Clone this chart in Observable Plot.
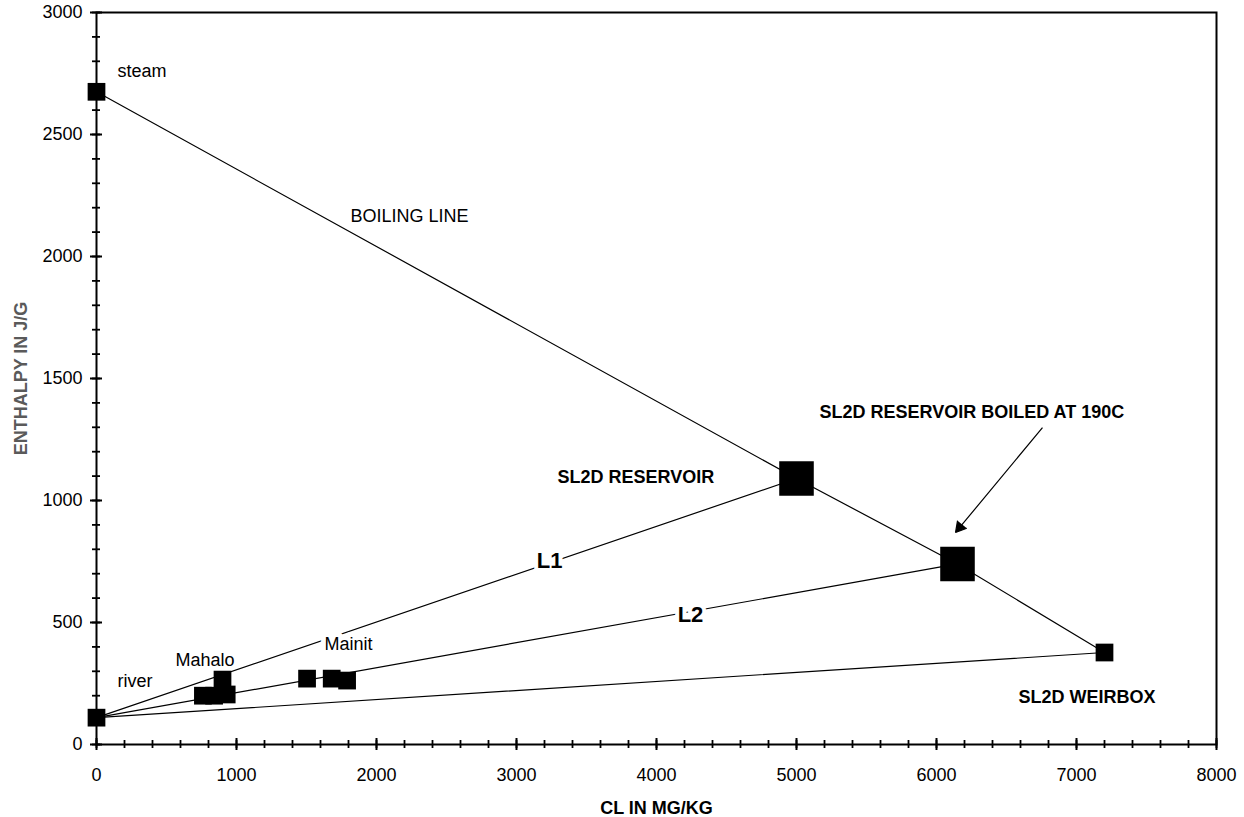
<!DOCTYPE html>
<html><head><meta charset="utf-8">
<script src="https://cdn.jsdelivr.net/npm/d3@7"></script>
<script src="https://cdn.jsdelivr.net/npm/@observablehq/plot@0.6"></script>
<style>body{margin:0;background:#fff}</style>
</head><body><div id="chart"></div>
<script>
// Tick values
const xTicks = [0, 1000, 2000, 3000, 4000, 5000, 6000, 7000, 8000];
const yTicks = [0, 500, 1000, 1500, 2000, 2500, 3000];
const xMinorTicks = d3.range(0, 8001, 200);
const yMinorTicks = d3.range(0, 3001, 100);

// Lines (CL mg/kg, enthalpy J/g)
const boilingLine = [
  {cl: 0, h: 2675}, {cl: 5000, h: 1090}, {cl: 6150, h: 740}, {cl: 7200, h: 377}
];
const lineL1 = [{cl: 0, h: 110}, {cl: 5000, h: 1090}];
const lineL2 = [{cl: 0, h: 110}, {cl: 6150, h: 740}];
const lineL3 = [{cl: 0, h: 110}, {cl: 7200, h: 377}];

// Sample points
const samples = [
  {name: "steam", cl: 0, h: 2675},
  {name: "river", cl: 0, h: 110},
  {name: "Mahalo", cl: 760, h: 200},
  {name: "Mahalo", cl: 840, h: 200},
  {name: "Mahalo", cl: 930, h: 205},
  {name: "Mahalo", cl: 900, h: 266},
  {name: "Mainit", cl: 1504, h: 270},
  {name: "Mainit", cl: 1680, h: 270},
  {name: "Mainit", cl: 1790, h: 262},
  {name: "SL2D WEIRBOX", cl: 7200, h: 377}
];
const reservoirPoints = [
  {name: "SL2D RESERVOIR", cl: 5000, h: 1090},
  {name: "SL2D RESERVOIR BOILED AT 190C", cl: 6150, h: 740}
];

// Labels
const plainLabels = [
  {label: "steam", cl: 150, h: 2758},
  {label: "BOILING LINE", cl: 1814, h: 2164},
  {label: "river", cl: 150, h: 258},
  {label: "Mahalo", cl: 564, h: 344}
];
const haloLabels = [{label: "Mainit", cl: 1629, h: 410}];
const boldLabels = [
  {label: "SL2D RESERVOIR", cl: 3293, h: 1094},
  {label: "SL2D RESERVOIR BOILED AT 190C", cl: 5164, h: 1361},
  {label: "SL2D WEIRBOX", cl: 6586, h: 193}
];
const lineLabels = [
  {label: "L1", cl: 3236, h: 754},
  {label: "L2", cl: 4243, h: 529}
];
const arrows = [{cl1: 6757, h1: 1299, cl2: 6136, h2: 869}];

const plain = (d) => String(d);

const chart = Plot.plot({
  width: 1244,
  height: 817,
  marginLeft: 96,
  marginRight: 28,
  marginTop: 12,
  marginBottom: 73,
  style: {fontFamily: "'Liberation Sans', Arial, sans-serif", background: "#fff", color: "#000"},
  x: {domain: [0, 8000], label: null},
  y: {domain: [0, 3000], label: null},
  marks: [
    Plot.line(boilingLine, {x: "cl", y: "h", stroke: "black", strokeWidth: 1.2}),
    Plot.line(lineL1, {x: "cl", y: "h", stroke: "black", strokeWidth: 1.2}),
    Plot.line(lineL2, {x: "cl", y: "h", stroke: "black", strokeWidth: 1.2}),
    Plot.line(lineL3, {x: "cl", y: "h", stroke: "black", strokeWidth: 1.2}),
    Plot.dot(samples, {x: "cl", y: "h", symbol: "square", r: 10, fill: "black", stroke: "none"}),
    Plot.dot(reservoirPoints, {x: "cl", y: "h", symbol: "square", r: 19.5, fill: "black", stroke: "none"}),
    Plot.arrow(arrows, {x1: "cl1", y1: "h1", x2: "cl2", y2: "h2", stroke: "black", fill: "black", strokeWidth: 1.2, headLength: 15, headAngle: 60, strokeLinecap: "butt"}),
    Plot.text(plainLabels, {x: "cl", y: "h", text: "label", textAnchor: "start", fontSize: 18, fill: "black"}),
    Plot.text(haloLabels, {x: "cl", y: "h", text: "label", textAnchor: "start", fontSize: 18, fill: "black", stroke: "white", strokeWidth: 10, paintOrder: "stroke"}),
    Plot.text(boldLabels, {x: "cl", y: "h", text: "label", textAnchor: "start", fontSize: 18, fontWeight: "bold", fill: "black"}),
    Plot.text(lineLabels, {x: "cl", y: "h", text: "label", textAnchor: "middle", fontSize: 22, fontWeight: "bold", fill: "black", stroke: "white", strokeWidth: 8, paintOrder: "stroke"}),
    Plot.frame({stroke: "black", strokeWidth: 2}),
    // ticks crossing the axes
    Plot.axisX({ticks: xTicks, tickSize: 12, dy: -6, tickFormat: () => "", label: null, strokeWidth: 2}),
    Plot.axisX({ticks: xMinorTicks, tickSize: 8, dy: -4, tickFormat: () => "", label: null, strokeWidth: 1.8}),
    Plot.axisX({ticks: xTicks, tickSize: 0, tickPadding: 24, tickFormat: plain, fontSize: 18, label: null}),
    Plot.axisY({ticks: yTicks, tickSize: 12, dx: 6, tickFormat: () => "", label: null, strokeWidth: 2}),
    Plot.axisY({ticks: yMinorTicks, tickSize: 8, dx: 4, tickFormat: () => "", label: null, strokeWidth: 1.8}),
    Plot.axisY({ticks: yTicks, tickSize: 0, tickPadding: 14, tickFormat: plain, fontSize: 18, label: null}),
    Plot.text(["CL IN MG/KG"], {frameAnchor: "bottom", dy: 64, lineAnchor: "middle", fontSize: 18, fontWeight: "bold", fill: "black"}),
    Plot.text(["ENTHALPY IN J/G"], {frameAnchor: "left", dx: -75, rotate: -90, textAnchor: "middle", lineAnchor: "middle", fontSize: 18, fontWeight: "bold", fill: "#5a5a5a"})
  ]
});
document.getElementById("chart").appendChild(chart);
</script>
</body></html>
